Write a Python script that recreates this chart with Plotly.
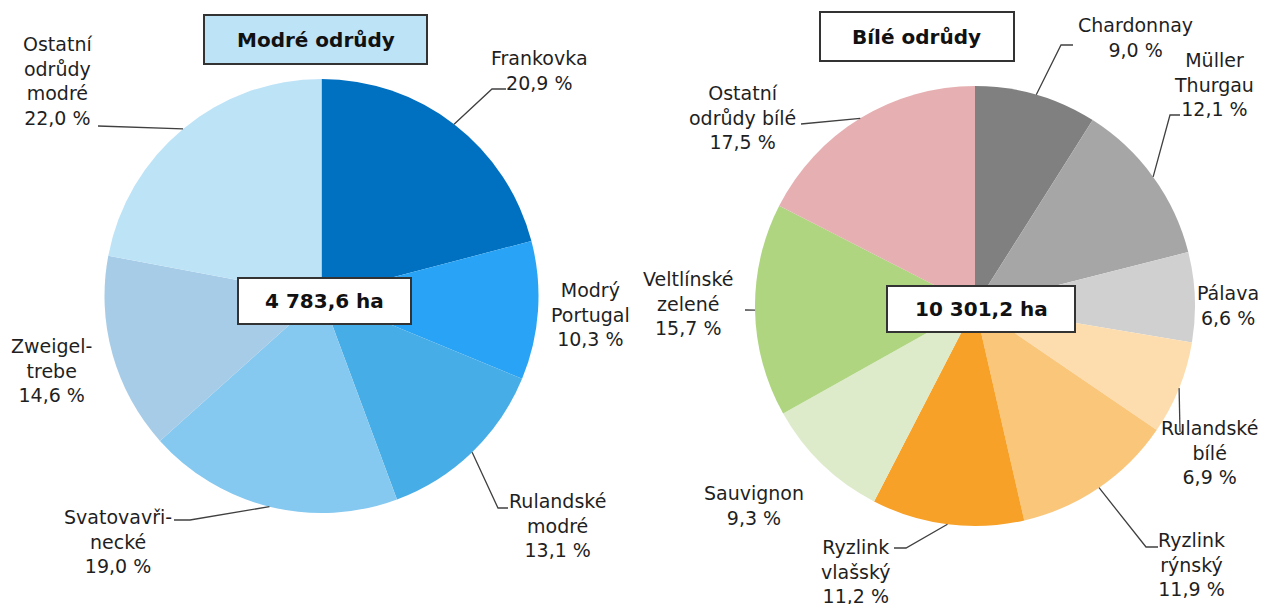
import math
import plotly.graph_objects as go

W, H = 1268, 604

# ---------------- data ----------------
blue_names = ["Frankovka", "Modrý<br>Portugal", "Rulandské<br>modré", "Svatovavři-<br>necké",
              "Zweigel-<br>trebe", "Ostatní<br>odrůdy<br>modré"]
blue_values = [20.9, 10.3, 13.1, 19.0, 14.6, 22.0]
blue_total = "4 783,6 ha"
blue_title = "Modré odrůdy"

white_names = ["Chardonnay", "Müller<br>Thurgau", "Pálava", "Rulandské<br>bílé", "Ryzlink<br>rýnský",
               "Ryzlink<br>vlašský", "Sauvignon", "Veltlínské<br>zelené", "Ostatní<br>odrůdy bílé"]
white_values = [9.0, 12.1, 6.6, 6.9, 11.9, 11.2, 9.3, 15.7, 17.5]
white_total = "10 301,2 ha"
white_title = "Bílé odrůdy"

# ---------------- styles / layout positions (pixels) ----------------
blue_colors = ["#0070C0", "#29A3F5", "#47ADE6", "#85C8F0", "#A7CCE7", "#BDE3F7"]
white_colors = ["#808080", "#A6A6A6", "#D0D0D0", "#FDDDAE", "#FAC67A", "#F7A128",
                "#DDEBCB", "#AFD581", "#E6AFB1"]

blue_geom = dict(cx=321.5, cy=296, r=217)
white_geom = dict(cx=975, cy=306, r=220)

blue_label_pos = [(539, 70), (590, 314), (557, 525), (118, 541), (51, 370), (57, 81)]
blue_leaders = [[(492, 89), (506, 89)], None, [(498, 508), (508, 508)],
                [(190, 520), (174, 520)], None, [(98, 126)]]

white_label_pos = [(1135, 38), (1214, 84), (1228, 305), (1209, 452), (1191, 564),
                   (856, 571), (754, 505), (688, 303), (742, 117)]
white_leaders = [[(1061, 45), (1073, 45)], [(1170, 115), (1180, 115)], None, [(1180, 432)],
                 [(1146, 547), (1158, 547)], [(906, 548), (894, 548)], None, [(745, 310)],
                 [(801, 124)]]

blue_title_box = dict(x0=204, x1=427, y0=15, y1=64, fill="#BDE3F7")
white_title_box = dict(x0=820, x1=1014, y0=12, y1=61, fill="#FFFFFF")
blue_total_box = dict(x0=238, x1=411, y0=278, y1=324, fill="#FFFFFF")
white_total_box = dict(x0=887, x1=1075, y0=286, y1=332, fill="#FFFFFF")

FONT = "DejaVu Sans, Verdana, sans-serif"
TXT = "#1f1f1f"
LINE = "#404040"


def px(x):
    return x / W


def py(y):
    return 1 - y / H


def fmt(v):
    return f"{v:.1f}".replace(".", ",") + " %"


fig = go.Figure()
shapes = []
annotations = []


def add_pie(values, names, colors, geom, label_pos, leaders):
    cx, cy, r = geom["cx"], geom["cy"], geom["r"]
    fig.add_trace(go.Pie(
        values=values, labels=[n.replace("<br>", " ") for n in names],
        marker=dict(colors=colors, line=dict(width=0)),
        sort=False, direction="clockwise", rotation=0,
        textinfo="none", hoverinfo="label+percent", showlegend=False,
        domain=dict(x=[px(cx - r), px(cx + r)], y=[py(cy + r), py(cy - r)]),
    ))
    total = sum(values)
    cum = 0.0
    for v, n, pos, lead in zip(values, names, label_pos, leaders):
        mid = (cum + v / 2) / total * 2 * math.pi
        cum += v
        annotations.append(dict(
            x=px(pos[0]), y=py(pos[1]), xref="paper", yref="paper",
            text=f"{n}<br>{fmt(v)}", showarrow=False, align="center",
            xanchor="center", yanchor="middle",
            font=dict(family=FONT, size=19, color=TXT),
        ))
        if lead:
            sx = cx + r * math.sin(mid)
            sy = cy - r * math.cos(mid)
            pts = [(sx, sy)] + lead
            path = "M " + " L ".join(f"{px(a):.5f},{py(b):.5f}" for a, b in pts)
            shapes.append(dict(type="path", path=path, xref="paper", yref="paper",
                               line=dict(color=LINE, width=1.3)))


add_pie(blue_values, blue_names, blue_colors, blue_geom, blue_label_pos, blue_leaders)
add_pie(white_values, white_names, white_colors, white_geom, white_label_pos, white_leaders)


def add_box(box, text):
    shapes.append(dict(type="rect", xref="paper", yref="paper",
                       x0=px(box["x0"]), x1=px(box["x1"]), y0=py(box["y1"]), y1=py(box["y0"]),
                       fillcolor=box["fill"], line=dict(color="#333333", width=2), layer="above"))
    annotations.append(dict(
        x=px((box["x0"] + box["x1"]) / 2), y=py((box["y0"] + box["y1"]) / 2),
        xref="paper", yref="paper", text=f"<b>{text}</b>", showarrow=False,
        xanchor="center", yanchor="middle",
        font=dict(family=FONT, size=20, color="#111111"),
    ))


add_box(blue_title_box, blue_title)
add_box(white_title_box, white_title)
add_box(blue_total_box, blue_total)
add_box(white_total_box, white_total)

fig.update_layout(
    width=W, height=H, autosize=False,
    margin=dict(l=0, r=0, t=0, b=0),
    paper_bgcolor="white", plot_bgcolor="white",
    shapes=shapes, annotations=annotations,
)

fig.write_html("out.html", config={"displayModeBar": False},
               post_script="document.body.style.margin='0';")
